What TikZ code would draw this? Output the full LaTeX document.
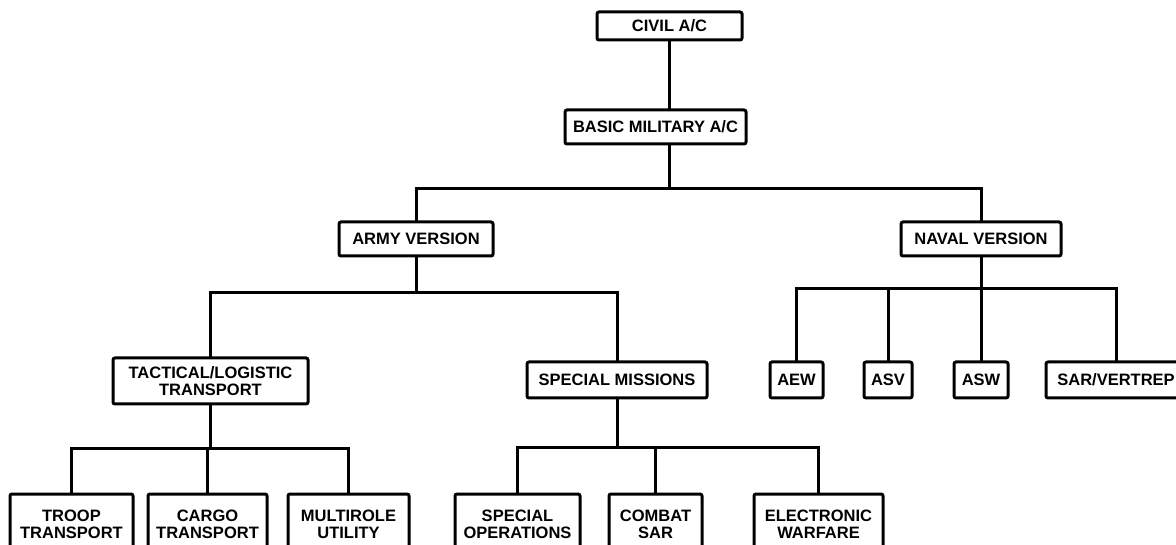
\documentclass[tikz,border=0pt]{standalone}
\usepackage{fontspec}
\setmainfont{Liberation Sans}
\usetikzlibrary{positioning}

\begin{document}
\begin{tikzpicture}
  [
    x=1pt, y=-1pt,
    line width=3pt,
    OrgBox/.style={draw, rounded corners=2pt, align=center, inner sep=0pt, outer sep=0pt,
      minimum height=34pt, font=\fontsize{16.5}{17}\selectfont\bfseries},
    LowBox/.style={OrgBox, minimum height=60pt},
  ]
  \useasboundingbox (0,0) rectangle (1176,545);
  \clip (0,0) rectangle (1176,545);

  % top of the tree
  \node [OrgBox, minimum width=145pt, minimum height=28pt] (civil) at (669.5,26) {CIVIL A/C};
  \node [OrgBox, minimum width=181pt] (basic) at (655.5,127) {BASIC MILITARY A/C};

  % versions
  \node [OrgBox, minimum width=154pt] (army)  at (416,239) {ARMY VERSION};
  \node [OrgBox, minimum width=160pt] (naval) at (981,239) {NAVAL VERSION};

  % army branches
  \node [OrgBox, minimum width=195pt, minimum height=46pt] (tactical) at (210.5,381) {TACTICAL/LOGISTIC\\TRANSPORT};
  \node [OrgBox, minimum width=180pt, minimum height=36pt] (specmis) at (617,380) {SPECIAL MISSIONS};

  % naval roles
  \node [OrgBox, minimum width=53pt,  minimum height=36pt] (aew)  at (796.5,380) {AEW};
  \node [OrgBox, minimum width=48pt,  minimum height=36pt] (asv)  at (888,380)   {ASV};
  \node [OrgBox, minimum width=54pt,  minimum height=36pt] (asw)  at (981,380)   {ASW};
  \node [OrgBox, minimum width=140pt, minimum height=36pt] (sarv) at (1116,380)  {SAR/VERTREP};

  % bottom row
  \node [LowBox, minimum width=123pt] (troop)     at (71.5,524)  {TROOP\\TRANSPORT};
  \node [LowBox, minimum width=119pt] (cargo)     at (207.5,524) {CARGO\\TRANSPORT};
  \node [LowBox, minimum width=121pt] (multirole) at (348.5,524) {MULTIROLE\\UTILITY};
  \node [LowBox, minimum width=125pt] (specops)   at (517.5,524) {SPECIAL\\OPERATIONS};
  \node [LowBox, minimum width=93pt]  (combat)    at (655.5,524) {COMBAT\\SAR};
  \node [LowBox, minimum width=129pt] (ewar)      at (818.5,524) {ELECTRONIC\\WARFARE};

  % connectors
  \draw (civil.south) -- (civil.south |- basic.north);
  \draw (civil.south |- basic.south) -- ++(0,45) coordinate (bus1);
  \draw (army.north) |- (bus1) -| (naval.north);

  \draw (army.south) -- ++(0,37) coordinate (bus2);
  \draw (tactical.north) |- (bus2) -| (specmis.north);

  \draw (naval.south) -- ++(0,33) coordinate (bus3);
  \draw (aew.north) |- (bus3) -| (sarv.north);
  \draw (asv.north) -- (asv.north |- bus3);
  \draw (asw.north) -- (bus3);

  \draw (tactical.south) -- ++(0,44) coordinate (bus4);
  \draw (troop.north) |- (bus4) -| (multirole.north);
  \draw (cargo.north) -- (cargo.north |- bus4);

  \draw (specmis.south) -- ++(0,49) coordinate (bus5);
  \draw (specops.north) |- (bus5) -| (ewar.north);
  \draw (combat.north) -- (combat.north |- bus5);
\end{tikzpicture}
\end{document}
